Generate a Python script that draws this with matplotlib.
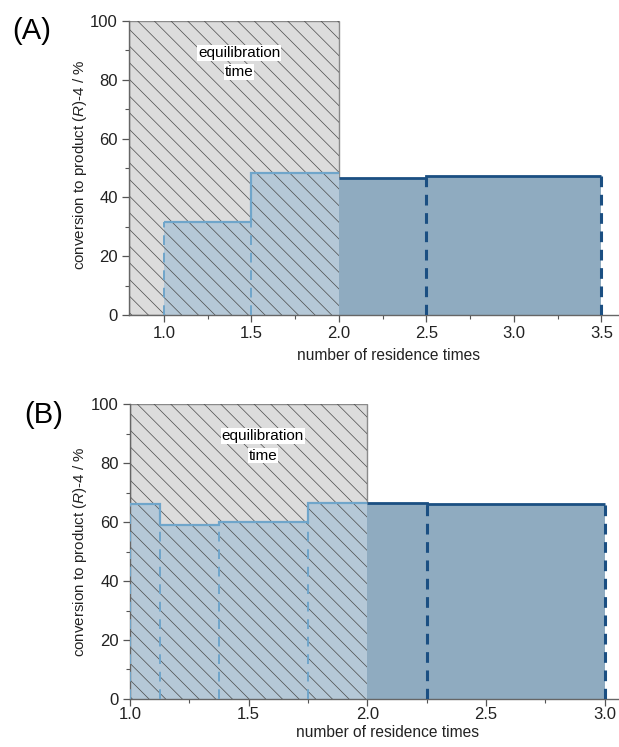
import numpy as np
import matplotlib
matplotlib.use('Agg')
import matplotlib.pyplot as plt
from matplotlib.patches import Rectangle
from matplotlib.ticker import MultipleLocator

plt.rcParams['font.family'] = ['Liberation Sans', 'DejaVu Sans']
plt.rcParams['mathtext.fontset'] = 'custom'
plt.rcParams['mathtext.rm'] = 'Liberation Sans'
plt.rcParams['mathtext.it'] = 'Liberation Sans:italic'
plt.rcParams['hatch.linewidth'] = 0.5

# Data
# (A) bin edges in residence times and conversion per bin
a_edges = [1.0, 1.5, 2.0, 2.5, 3.5]
a_conv = [31.5, 48.2, 46.5, 47.2]
a_xlim = (0.8, 3.6)
a_xticks = [1.0, 1.5, 2.0, 2.5, 3.0, 3.5]

# (B)
b_edges = [1.0, 1.125, 1.375, 1.75, 2.0, 2.25, 3.0]
b_conv = [66.2, 59.0, 60.0, 66.5, 66.5, 66.0]
b_xlim = (1.0, 3.06)
b_xticks = [1.0, 1.5, 2.0, 2.5, 3.0]

eq_end = 2.0   # end of equilibration time
y_max = 100

light_fill = '#b5c8d7'
light_edge = '#6fa5ca'
dark_fill = '#8fabc0'
dark_edge = '#1b4f82'
gray_fill = '#dcdcdc'


def draw_panel(ax, edges, conv, xlim, xticks, text_x, tick_pad):
    edges = np.array(edges)
    conv = np.array(conv)
    x0 = xlim[0]

    # equilibration zone
    ax.add_patch(Rectangle((x0, 0), eq_end - x0, y_max, facecolor=gray_fill,
                           edgecolor='#8a8a8a', lw=1.0, zorder=0))

    left = edges[:-1]
    width = np.diff(edges)
    light = edges[1:] <= eq_end
    dark = ~light

    ax.bar(left[light], conv[light], width=width[light], align='edge',
           color=light_fill, linewidth=0, zorder=1)
    ax.bar(left[dark], conv[dark], width=width[dark], align='edge',
           color=dark_fill, linewidth=0, zorder=1)

    # hatch over equilibration zone
    ax.add_patch(Rectangle((x0, 0), eq_end - x0, y_max, facecolor='none',
                           edgecolor='#4a4a4a', hatch='\\\\', lw=0, zorder=2))

    # outlines
    le = np.append(left[light], eq_end)
    ax.stairs(conv[light], le, baseline=None, color=light_edge, lw=1.6, zorder=3)
    de = np.append(eq_end, edges[1:][dark])
    ax.stairs(conv[dark], de, baseline=None, color=dark_edge, lw=2.0, zorder=3)

    for xl, h in zip(left[light], conv[light]):
        ax.vlines(xl, 0, h, colors=light_edge, lw=1.4, linestyles=(0, (5, 4)), zorder=3)
    for xr, h in zip(edges[1:][dark], conv[dark]):
        ax.vlines(xr, 0, h, colors=dark_edge, lw=2.2, linestyles=(0, (3.5, 2.5)), zorder=3)

    box = dict(facecolor='white', edgecolor='none', pad=0.6)
    ax.text(text_x, 89.2, 'equilibration', ha='center', va='center',
            fontsize=11, zorder=4, bbox=box)
    ax.text(text_x, 82.6, 'time', ha='center', va='center',
            fontsize=11, zorder=4, bbox=box)

    ax.set_xlim(*xlim)
    ax.set_ylim(0, y_max)
    ax.set_xticks(xticks)
    ax.set_xticklabels(['%.1f' % t for t in xticks])
    ax.xaxis.set_minor_locator(MultipleLocator(0.25))
    ax.set_yticks([0, 20, 40, 60, 80, 100])
    ax.yaxis.set_minor_locator(MultipleLocator(10))
    ax.tick_params(which='major', direction='out', length=5, width=0.9,
                   color='#555555', labelsize=12, pad=3, labelcolor='#222222')
    ax.tick_params(axis='x', which='major', pad=tick_pad)
    ax.tick_params(which='minor', direction='out', length=3, width=0.8, color='#555555')
    for s in ['top', 'right']:
        ax.spines[s].set_visible(False)
    for s in ['left', 'bottom']:
        ax.spines[s].set_color('#666666')
        ax.spines[s].set_linewidth(1.0)

    ax.set_xlabel('number of residence times', fontsize=11.2, color='#222222')
    ax.set_ylabel(r'conversion to product ($\mathit{R}$)-4 / %', fontsize=10.9,
                  color='#222222')


fig = plt.figure(figsize=(6.19, 7.47), dpi=100)
ax1 = fig.add_axes([0.2084, 0.5783, 0.7916, 0.3936])
ax2 = fig.add_axes([0.2100, 0.0643, 0.7900, 0.3945])

draw_panel(ax1, a_edges, a_conv, a_xlim, a_xticks, 1.43, 3)
draw_panel(ax2, b_edges, b_conv, b_xlim, b_xticks, 1.56, 1)

ax1.xaxis.set_label_coords(0.529, -0.112)
ax1.yaxis.set_label_coords(-0.082, 0.51)
ax2.xaxis.set_label_coords(0.527, -0.089)
ax2.yaxis.set_label_coords(-0.084, 0.50)

fig.text(0.019, 0.958, '(A)', fontsize=21, va='center', ha='left')
fig.text(0.039, 0.4445, '(B)', fontsize=21, va='center', ha='left')

fig.savefig('out.png', dpi=100)
